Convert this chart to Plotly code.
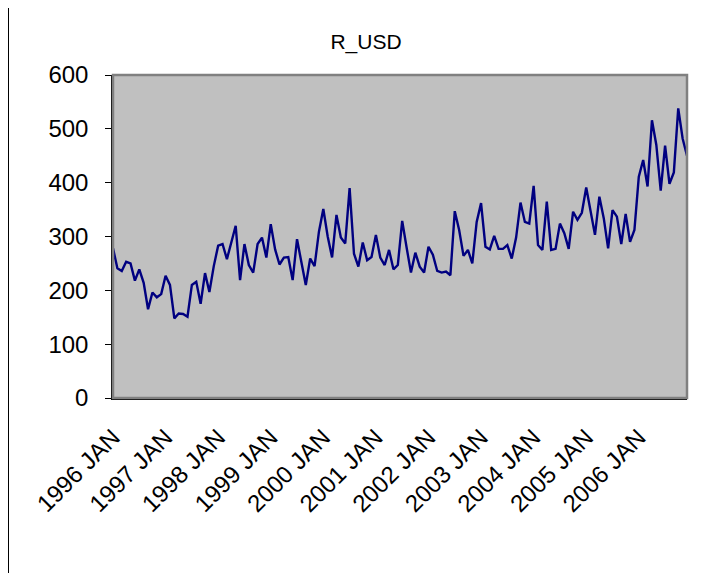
import plotly.graph_objects as go

years = list(range(1996, 2007))
tick_labels = [f"{y} JAN" for y in years]

r_usd = [
    278, 241, 236, 253, 250, 218, 239, 214, 165, 196, 187, 193,
    227, 210, 148, 157, 156, 151, 210, 216, 175, 232, 197, 245,
    283, 286, 258, 290, 320, 219, 286, 247, 233, 286, 298, 261,
    323, 276, 248, 261, 262, 219, 295, 252, 210, 259, 245, 309,
    351, 300, 261, 340, 298, 287, 390, 268, 244, 289, 256, 262,
    303, 261, 247, 275, 239, 247, 329, 280, 233, 270, 244, 233,
    281, 266, 236, 233, 235, 228, 347, 312, 264, 275, 250, 327,
    362, 281, 276, 301, 277, 277, 284, 259, 298, 363, 327, 324,
    394, 284, 275, 365, 275, 277, 324, 306, 277, 346, 331, 344,
    391, 347, 303, 374, 334, 278, 349, 337, 286, 342, 290, 312,
    411, 442, 393, 516, 470, 385, 469, 398, 419, 538, 482, 450,
]

x_idx = list(range(len(r_usd)))
tick_vals = [12 * k for k in range(len(years))]

# page body has an 8px margin, so the figure is drawn 8px to the right/down
W, H = 709, 565
L, R, T, B = 105, 30, 67, 175
pw, ph = W - L - R, H - T - B

def px_x(p):
    return (p - L) / pw

def px_y(p):
    return (H - B - p) / ph

fig = go.Figure()
fig.add_trace(go.Scatter(
    x=x_idx, y=r_usd, mode="lines",
    line=dict(color="#000080", width=2.4),
    hoverinfo="y", showlegend=False,
))

font = "Liberation Sans, Arial, sans-serif"

fig.update_layout(
    width=W, height=H,
    margin=dict(l=L, r=R, t=T, b=B, pad=0),
    paper_bgcolor="white",
    plot_bgcolor="#C0C0C0",
    font=dict(family=font, color="black", size=24),
    title=dict(text="R_USD", x=358 / W, xref="container", xanchor="center",
               y=1 - 34 / H, yref="container", yanchor="middle",
               font=dict(family=font, size=21, color="black")),
    xaxis=dict(
        range=[0, len(r_usd) - 1],
        tickmode="array", tickvals=tick_vals, ticktext=tick_labels,
        tickangle=-45, showgrid=False, zeroline=False,
        showline=True, linecolor="black", linewidth=1.5,
        ticks="", ticklabelstandoff=14,
        tickfont=dict(family=font, size=24, color="black"),
        fixedrange=True,
    ),
    yaxis=dict(
        range=[0, 600], dtick=100, tick0=0,
        showgrid=False, zeroline=False,
        showline=True, linecolor="black", linewidth=1.5,
        ticks="outside", ticklen=6, tickcolor="black", tickwidth=1,
        ticklabelstandoff=12,
        tickfont=dict(family=font, size=24, color="black"),
        fixedrange=True,
    ),
    shapes=[
        dict(type="rect", xref="paper", yref="paper", x0=0, y0=0, x1=1, y1=1,
             line=dict(color="#808080", width=2.5), layer="above"),
        dict(type="rect", xref="paper", yref="paper",
             x0=px_x(0.5), x1=px_x(708), y0=px_y(H + 5), y1=px_y(-10),
             line=dict(color="black", width=1), layer="above"),
    ],
)

fig.write_html("out.html")
